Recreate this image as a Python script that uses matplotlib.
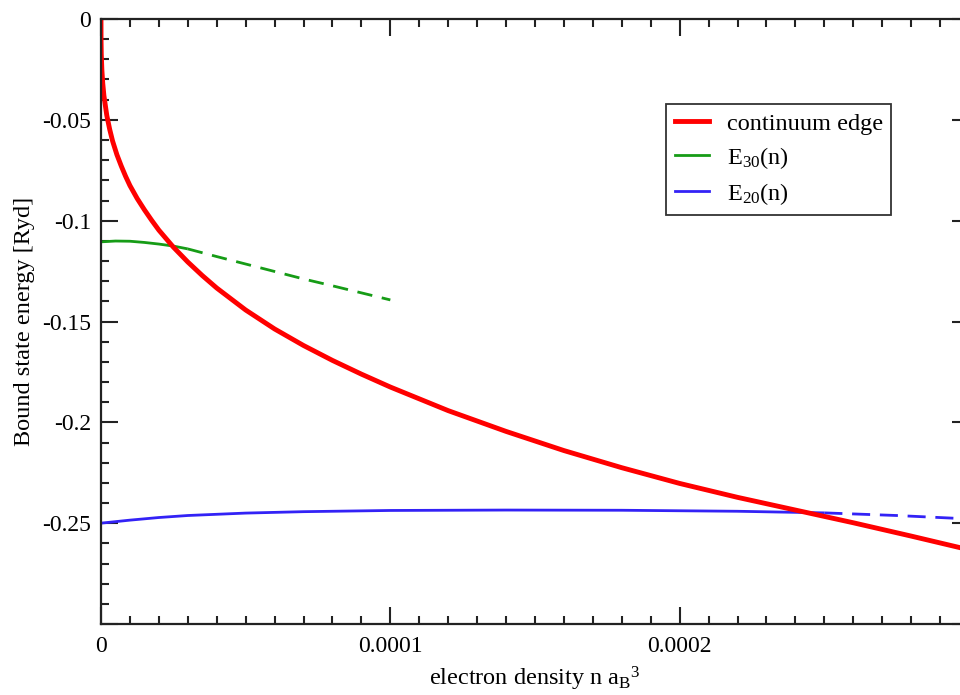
import matplotlib
matplotlib.use("Agg")
import matplotlib.pyplot as plt
from matplotlib.ticker import MultipleLocator, FixedLocator, FixedFormatter

plt.rcParams["font.family"] = ["Liberation Serif", "DejaVu Serif"]
plt.rcParams["mathtext.fontset"] = "custom"
plt.rcParams["mathtext.rm"] = "Liberation Serif"
plt.rcParams["mathtext.it"] = "Liberation Serif:italic"

# continuum edge (electron density n a_B^3 -> energy in Ryd)
edge_x = [0.0, 2e-8, 1e-7, 3e-7, 6e-7, 1e-6, 2e-6, 3e-6, 4e-6, 5.5e-6,
          7e-6, 8.5e-6, 1e-5, 1.25e-5, 1.5e-5, 1.75e-5, 2e-5, 2.5e-5, 3e-5,
          3.5e-5, 4e-5, 5e-5, 6e-5, 7e-5, 8e-5, 9e-5, 1e-4, 1.2e-4, 1.4e-4,
          1.6e-4, 1.8e-4, 2e-4, 2.2e-4, 2.4e-4, 2.6e-4, 2.8e-4, 3e-4]
edge_y = [0.0, -0.0102, -0.0175, -0.0252, -0.0318, -0.0379, -0.0478,
          -0.0547, -0.0605, -0.0673, -0.0729, -0.0780, -0.0826, -0.0890,
          -0.0946, -0.0998, -0.1047, -0.1131, -0.1205, -0.1272, -0.1334,
          -0.1443, -0.1537, -0.1619, -0.1693, -0.1761, -0.1825, -0.1942,
          -0.2045, -0.2140, -0.2225, -0.2303, -0.2372, -0.2435, -0.2498,
          -0.2564, -0.2632]

# E30(n): bound part (solid) and continuation (dashed)
e30_x = [0.0, 5e-6, 1e-5, 1.5e-5, 2e-5, 2.5e-5, 3e-5]
e30_y = [-0.1105, -0.1101, -0.1102, -0.1108, -0.1116, -0.1126, -0.1140]
e30_dash_x = [3e-5, 4e-5, 5e-5, 6e-5, 7e-5, 8e-5, 9e-5, 1e-4]
e30_dash_y = [-0.1140, -0.1178, -0.1215, -0.1252, -0.1289, -0.1323,
              -0.1358, -0.1393]

# E20(n): bound part (solid) and continuation (dashed)
e20_x = [0.0, 1e-5, 2e-5, 3e-5, 5e-5, 7e-5, 1e-4, 1.4e-4, 1.8e-4, 2.2e-4,
         2.5e-4]
e20_y = [-0.2500, -0.2485, -0.2472, -0.2462, -0.2450, -0.2443, -0.2437,
         -0.2435, -0.2436, -0.2441, -0.2449]
e20_dash_x = [2.5e-4, 2.75e-4, 3e-4]
e20_dash_y = [-0.2449, -0.2462, -0.2479]

x_tick_values = [0.0, 1e-4, 2e-4, 3e-4]
x_tick_labels = ["0", "0.0001", "0.0002", ""]
y_tick_values = [0.0, -0.05, -0.1, -0.15, -0.2, -0.25, -0.3]
y_tick_labels = ["0", "-0.05", "-0.1", "-0.15", "-0.2", "-0.25", ""]

RED = "#ff0000"
GREEN = "#169c16"
BLUE = "#3322f6"

fig = plt.figure(figsize=(9.6, 6.95), dpi=100)
ax = fig.add_axes([101 / 960, 71 / 695, 868 / 960, 605 / 695])

ax.plot(e20_x, e20_y, color=BLUE, lw=2.0, solid_capstyle="butt")
ax.plot(e20_dash_x, e20_dash_y, color=BLUE, lw=2.0, dashes=(6.5, 3.5))
ax.plot(e30_x, e30_y, color=GREEN, lw=2.0, solid_capstyle="butt")
ax.plot(e30_dash_x, e30_dash_y, color=GREEN, lw=2.0, dashes=(5.5, 3.5))
ax.plot(edge_x, edge_y, color=RED, lw=3.5, solid_joinstyle="round")

ax.set_xlim(0, 3e-4)
ax.set_ylim(-0.3, 0)

ax.xaxis.set_major_locator(FixedLocator(x_tick_values))
ax.xaxis.set_major_formatter(FixedFormatter(x_tick_labels))
ax.xaxis.set_minor_locator(MultipleLocator(1e-5))
ax.yaxis.set_major_locator(FixedLocator(y_tick_values))
ax.yaxis.set_major_formatter(FixedFormatter(y_tick_labels))
ax.yaxis.set_minor_locator(MultipleLocator(0.01))

ax.tick_params(which="both", direction="in", top=True, right=True,
               color="#222222", width=1.5)
ax.tick_params(which="major", length=12, labelsize=17, pad=7)
ax.tick_params(axis="x", which="major", pad=9)
ax.tick_params(which="minor", length=6)
for sp in ax.spines.values():
    sp.set_linewidth(1.6)
    sp.set_color("#222222")

ax.set_xlabel(r"electron density n a$_\mathregular{B}$$^\mathregular{3}$",
              fontsize=17.5)
ax.set_ylabel("Bound state energy [Ryd]", fontsize=17.5)
ax.xaxis.set_label_coords(0.5, -0.068)
ax.yaxis.set_label_coords(-0.076, 0.5)

handles = [
    plt.Line2D([], [], color=RED, lw=3.5),
    plt.Line2D([], [], color=GREEN, lw=2.0),
    plt.Line2D([], [], color=BLUE, lw=2.0),
]
labels = ["continuum edge", r"E$_\mathregular{30}$(n)", r"E$_\mathregular{20}$(n)"]
leg = ax.legend(handles, labels, loc="upper left",
                bbox_to_anchor=(666 / 960, 1 - 104 / 695),
                bbox_transform=fig.transFigure, fontsize=17.5,
                frameon=True, fancybox=False, framealpha=1,
                borderaxespad=0, borderpad=0.35, handlelength=1.4,
                handletextpad=0.75, labelspacing=0.42)
leg.get_frame().set_edgecolor("#333333")
leg.get_frame().set_linewidth(1.3)

fig.savefig("out.png", dpi=100)
